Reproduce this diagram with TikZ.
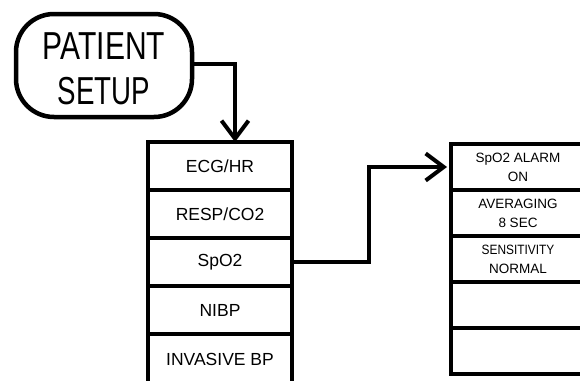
\documentclass[tikz,border=0pt]{standalone}
\usepackage{fontspec}
\setmainfont{Liberation Sans}
\usetikzlibrary{arrows.meta}
\tikzset{
  wire/.style={line width=4pt, line join=miter},
  openarrow/.style={-{Straight Barb[length=18pt,width=27pt,line width=4pt]}},
  leftrow/.style={draw, line width=4pt, rectangle, minimum width=144pt, minimum height=48pt, inner sep=0pt,
    font=\fontsize{17.5}{20}\selectfont},
  rightrow/.style={draw, line width=4pt, rectangle, minimum width=134pt, minimum height=46pt, inner sep=0pt,
    align=center, font=\fontsize{13.5}{19}\selectfont},
  titlebox/.style={draw, line width=4.5pt, rounded corners=38pt, minimum width=176pt, minimum height=103pt,
    inner sep=0pt, align=center, font=\fontsize{39}{46}\selectfont}
}
\begin{document}
\begin{tikzpicture}[x=1pt,y=-1pt]
\useasboundingbox[fill=white] (0,0) rectangle (580,380);
\node[titlebox] (ps) at (104,65.5) {\raisebox{-3pt}[\height][\depth]{\scalebox{0.77}[1]{PATIENT}}\\[-1pt]\raisebox{-3pt}[\height][\depth]{\scalebox{0.71}[1]{SETUP}}};
% left menu
\node[leftrow] (ecg) at (220,166) {ECG/HR};
\node[leftrow] (resp) at (220,214) {RESP/CO2};
\node[leftrow] (spo) at (220,262) {SpO2};
\node[leftrow] (nibp) at (220,310) {NIBP};
\node[leftrow, minimum height=54pt] (ibp) at (220,361) {\raisebox{2pt}[\height][\depth]{INVASIVE BP}};
% right menu
\node[rightrow] (alarm) at (518,167) {SpO2 ALARM\\ON};
\node[rightrow] (avg) at (518,213) {AVERAGING\\8 SEC};
\node[rightrow] (sens) at (518,259) {\scalebox{0.88}[1]{SENSITIVITY}\\NORMAL};
\node[rightrow] (r4) at (518,305) {};
\node[rightrow] (r5) at (518,351) {};
% connectors
\draw[wire,openarrow] (ps.east |- 0,64) -| ([xshift=15pt,yshift=-2pt]ecg.north);
\draw[wire,openarrow] (spo.east) -- ++(75,0) |- ([xshift=-2pt]alarm.west);
\end{tikzpicture}
\end{document}
